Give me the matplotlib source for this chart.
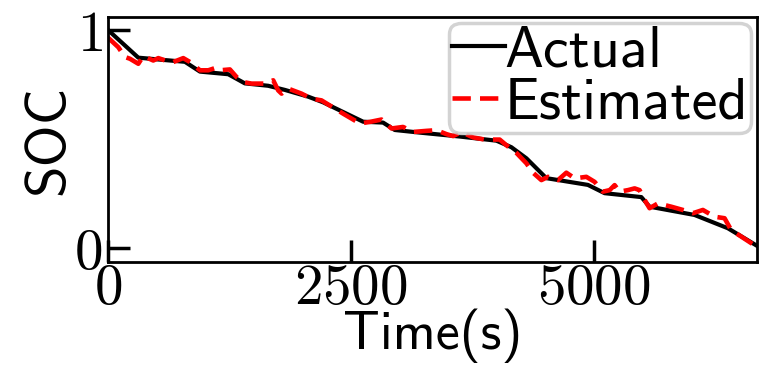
import matplotlib
matplotlib.use("Agg")
import matplotlib.pyplot as plt
from matplotlib.ticker import FuncFormatter

# actual SOC, piecewise trace
t_act = [0, 312, 586, 792, 947, 1238, 1409, 1649, 1821, 2061, 2215, 2627, 2832,
         2953, 3210, 3621, 3999, 4153, 4308, 4513, 4941, 5113, 5491, 5576, 6039,
         6382, 6680]
soc_act = [1.0, 0.873, 0.862, 0.854, 0.809, 0.797, 0.755, 0.744, 0.725, 0.694,
           0.668, 0.579, 0.575, 0.541, 0.529, 0.511, 0.492, 0.462, 0.411, 0.320,
           0.289, 0.251, 0.233, 0.189, 0.151, 0.090, 0.010]

# estimated SOC (noisy)
t_est = [0, 106, 175, 226, 312, 363, 466, 518, 655, 775, 844, 947, 1032, 1101,
         1152, 1255, 1324, 1392, 1478, 1615, 1701, 1752, 1787, 1855, 1992, 2095,
         2198, 2421, 2593, 2695, 2816, 2919, 3038, 3141, 3279, 3382, 3485, 3553,
         3639, 3758, 3879, 4033, 4102, 4205, 4308, 4376, 4462, 4530, 4633, 4719,
         4805, 4925, 5010, 5096, 5165, 5216, 5267, 5353, 5422, 5473, 5525, 5576,
         5662, 5799, 5919, 6022, 6125, 6245, 6348, 6416, 6519, 6680]
soc_est = [0.965, 0.921, 0.876, 0.868, 0.845, 0.880, 0.860, 0.871, 0.850, 0.871,
           0.853, 0.815, 0.815, 0.825, 0.815, 0.819, 0.784, 0.761, 0.754, 0.754,
           0.769, 0.723, 0.708, 0.731, 0.708, 0.685, 0.677, 0.616, 0.571, 0.578,
           0.589, 0.548, 0.555, 0.532, 0.537, 0.540, 0.522, 0.513, 0.532, 0.507,
           0.497, 0.497, 0.471, 0.436, 0.388, 0.345, 0.311, 0.326, 0.311, 0.345,
           0.319, 0.326, 0.303, 0.258, 0.265, 0.288, 0.258, 0.265, 0.273, 0.265,
           0.220, 0.182, 0.204, 0.189, 0.174, 0.159, 0.174, 0.143, 0.136, 0.082,
           0.052, 0.005]

plt.rcParams['mathtext.fontset'] = 'cm'

fig = plt.figure(figsize=(7.77, 3.68), dpi=100)
ax = fig.add_axes([0.139, 0.288, 0.835, 0.666])

ax.plot(t_act, soc_act, color='black', lw=3, label='Actual')
ax.plot(t_est, soc_est, color='red', lw=3.3, ls=(0, (4, 2)), label='Estimated')

ax.set_xlim(0, 6680)
ax.set_ylim(-0.065, 1.06)
ax.set_xticks([0, 2500, 5000])
ax.set_yticks([0, 1])
fmt = FuncFormatter(lambda v, p: '$%d$' % v)
ax.xaxis.set_major_formatter(fmt)
ax.yaxis.set_major_formatter(fmt)
ax.tick_params(direction='in', length=16, width=2.5, labelsize=41, pad=-1)
ax.tick_params(axis='y', pad=4)
for s in ax.spines.values():
    s.set_linewidth(2)

ax.set_xlabel('Time(s)', fontname='cmss10', fontsize=39, labelpad=-5)
ax.set_ylabel('SOC', fontname='cmss10', fontsize=41, labelpad=0)

leg = ax.legend(loc='upper right', prop={'family': 'cmss10', 'size': 42},
                handlelength=0.9, handletextpad=0.0, borderpad=0.05,
                borderaxespad=0.1, labelspacing=0.0, fancybox=True,
                framealpha=0.85, edgecolor='#cccccc')
leg.get_frame().set_linewidth(2.5)

fig.savefig('out.png', dpi=100)
